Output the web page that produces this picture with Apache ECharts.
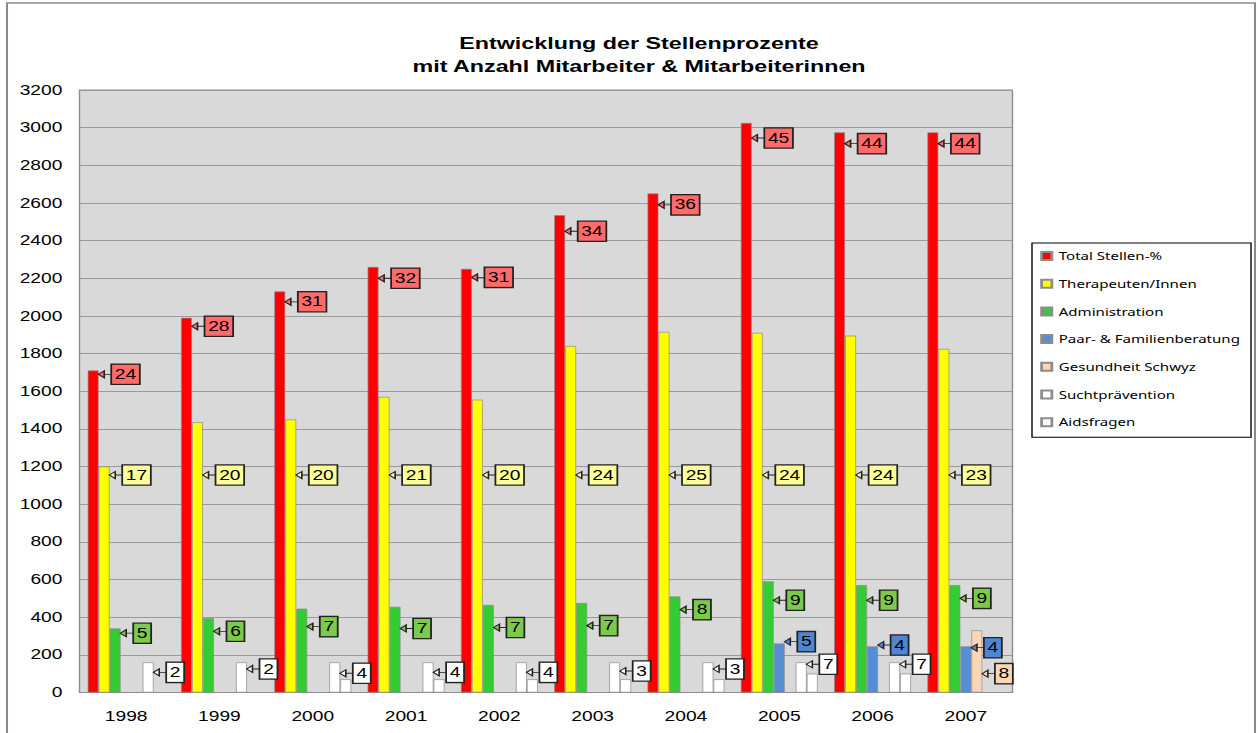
<!DOCTYPE html>
<html>
<head>
<meta charset="utf-8">
<title>Entwicklung der Stellenprozente</title>
<script src="https://cdn.jsdelivr.net/npm/echarts@6/dist/echarts.min.js"></script>
<style>
	html, body { margin: 0; padding: 0; background: #fff; overflow: hidden; width: 1258px; height: 733px; }
	/* the original picture is stretched sideways, so the chart is drawn narrow and widened */
	#chart { width: 918px; height: 733px; transform: scaleX(1.37037); transform-origin: 0 0; }
</style>
</head>
<body>
<div id="chart"></div>
<script>
var years = ['1998', '1999', '2000', '2001', '2002', '2003', '2004', '2005', '2006', '2007'];

// Stellenprozente per year
var totalStellen = [1710, 1990, 2130, 2260, 2250, 2535, 2650, 3025, 2975, 2975];
var therapeuten = [1200, 1435, 1450, 1570, 1555, 1840, 1915, 1910, 1895, 1825];
var administration = [340, 395, 445, 455, 465, 475, 510, 590, 570, 570];
var paarFamilie = [0, 0, 0, 0, 0, 0, 0, 260, 245, 245];
var gesundheitSchwyz = [0, 0, 0, 0, 0, 0, 0, 0, 0, 330];
var suchtpraevention = [160, 160, 160, 160, 160, 160, 160, 160, 160, 0];
var aidsfragen = [0, 0, 70, 70, 70, 70, 70, 100, 100, 0];

// Anzahl Mitarbeiter & Mitarbeiterinnen, and the height (in Stellen-%) the callout points at
var maTotal = [24, 28, 31, 32, 31, 34, 36, 45, 44, 44];
var maTotalAt = [1690, 1945, 2075, 2200, 2205, 2450, 2590, 2945, 2915, 2915];
var maTherapeuten = [17, 20, 20, 21, 20, 24, 25, 24, 24, 23];
var maTherapeutenAt = [1155, 1155, 1155, 1155, 1155, 1155, 1155, 1155, 1155, 1155];
var maAdmin = [5, 6, 7, 7, 7, 7, 8, 9, 9, 9];
var maAdminAt = [315, 325, 350, 340, 345, 355, 440, 490, 490, 500];
var maPaar = [null, null, null, null, null, null, null, 5, 4, 4];
var maPaarAt = [null, null, null, null, null, null, null, 270, 252, 238];
var maGesundheit = [null, null, null, null, null, null, null, null, null, 8];
var maGesundheitAt = [null, null, null, null, null, null, null, null, null, 100];
var maSucht = [2, 2, 4, 4, 4, 3, 3, 7, 7, null];
var maSuchtAt = [107, 125, 102, 107, 107, 114, 125, 150, 150, null];

var yTicks = { min: 0, max: 3200, step: 200 };

var SX = 1258 / 918;

function callouts(counts, at, fill) {
	var data = [];
	for (var i = 0; i < years.length; i++) {
		if (counts[i] == null) continue;
		data.push({ coord: [years[i], at[i]], value: counts[i] });
	}
	return {
		silent: true,
		animation: false,
		symbol: 'path://M0,4L5,0.5L5,7.5ZM5,4L11,4',
		symbolSize: [9.5, 7],
		symbolOffset: [8.5, 0],
		itemStyle: { color: fill, borderColor: '#222', borderWidth: 1 },
		label: {
			show: true,
			position: 'right',
			distance: 0,
			formatter: '{c}',
			color: '#000',
			fontFamily: 'Liberation Sans',
			fontSize: 14,
			lineHeight: 14,
			backgroundColor: fill,
			borderColor: '#222',
			borderWidth: 1.3,
			padding: [3, 2, 2, 2]
		},
		data: data
	};
}

function bars(name, values, color, mark) {
	return {
		name: name,
		type: 'bar',
		data: values,
		barGap: '0%',
		barCategoryGap: '17.5%',
		itemStyle: { color: color, borderColor: '#8c8c8c', borderWidth: 0.6 },
		markPoint: mark
	};
}

var chart = echarts.init(document.getElementById('chart'), null, { renderer: 'svg' });

chart.setOption({
	animation: false,
	backgroundColor: '#fff',
	title: {
		text: 'Entwicklung der Stellenprozente\nmit Anzahl Mitarbeiter & Mitarbeiterinnen',
		left: 639 / SX,
		top: 32,
		textAlign: 'center',
		padding: 0,
		textStyle: {
			fontFamily: 'Liberation Sans',
			fontWeight: 'bold',
			fontSize: 17,
			lineHeight: 23,
			color: '#000'
		}
	},
	legend: {
		orient: 'vertical',
		left: 1032 / SX,
		top: 243,
		icon: 'rect',
		itemWidth: 7.5,
		itemHeight: 8,
		itemGap: 13.7,
		padding: [6, 8, 8, 6],
		backgroundColor: '#fff',
		borderColor: '#000',
		borderWidth: 1,
		textStyle: { fontFamily: 'Noto Sans', fontSize: 11, lineHeight: 14, color: '#000' }
	},
	graphic: [{
		type: 'rect',
		silent: true,
		shape: { x: 7 / SX, y: 3, width: 1248 / SX, height: 760 },
		style: { fill: 'none', stroke: '#8a8a8a', lineWidth: 1.5 }
	}],
	grid: {
		left: 79.5 / SX,
		right: 918 - 1012.5 / SX,
		top: 90,
		bottom: 40.5,
		show: true,
		backgroundColor: '#d9d9d9',
		borderColor: '#8c8c8c',
		borderWidth: 1
	},
	xAxis: {
		type: 'category',
		data: years,
		axisLine: { lineStyle: { color: '#8c8c8c' } },
		axisTick: { show: false },
		axisLabel: { margin: 17, color: '#000', fontFamily: 'Liberation Sans', fontSize: 14 }
	},
	yAxis: {
		type: 'value',
		min: yTicks.min,
		max: yTicks.max,
		interval: yTicks.step,
		axisLine: { show: false },
		axisTick: { show: false },
		splitLine: { lineStyle: { color: '#9a9a9a' } },
		axisLabel: {
			margin: 12.5,
			color: '#000',
			fontFamily: 'Liberation Sans',
			fontSize: 14,
			formatter: function (v) { return String(v); }
		}
	},
	series: [
		bars('Total Stellen-%', totalStellen, '#ff0000', callouts(maTotal, maTotalAt, '#ff6b6b')),
		bars('Therapeuten/Innen', therapeuten, '#ffff00', callouts(maTherapeuten, maTherapeutenAt, '#ffff99')),
		bars('Administration', administration, '#33cc33', callouts(maAdmin, maAdminAt, '#7dc94b')),
		bars('Paar- & Familienberatung', paarFamilie, '#558ed5', callouts(maPaar, maPaarAt, '#4f86d1')),
		bars('Gesundheit Schwyz', gesundheitSchwyz, '#fcd5b5', callouts(maGesundheit, maGesundheitAt, '#fcd5b5')),
		bars('Suchtprävention', suchtpraevention, '#ffffff', callouts(maSucht, maSuchtAt, '#ffffff')),
		bars('Aidsfragen', aidsfragen, '#ffffff')
	]
});
</script>
</body>
</html>
